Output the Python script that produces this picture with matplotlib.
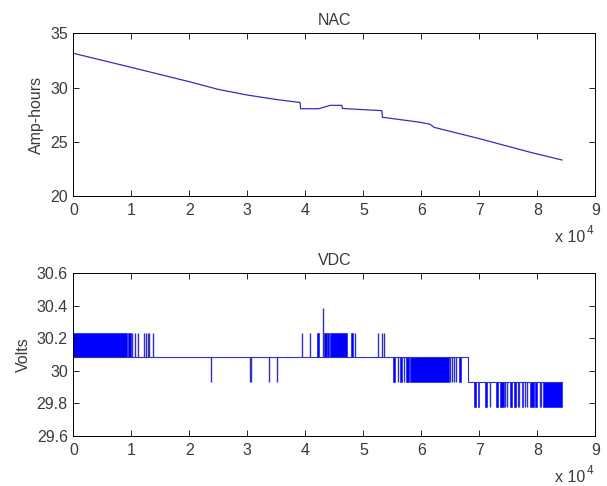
import matplotlib
matplotlib.use('Agg')
import matplotlib.pyplot as plt
from matplotlib.ticker import FixedLocator, FuncFormatter

# ---------------- data ----------------
# NAC (Amp-hours) vs time (samples)
nac_t = [0, 10000, 20000, 25000, 30000, 35000, 39100, 39200, 42300, 44300,
         46300, 46400, 53200, 53300, 59800, 61500, 62200, 70000, 78800, 84250]
nac_v = [33.16, 31.86, 30.54, 29.83, 29.31, 28.90, 28.62, 28.05, 28.05, 28.36,
         28.36, 28.07, 27.87, 27.26, 26.80, 26.62, 26.33, 25.29, 24.03, 23.32]

# VDC quantised levels (Volts)
lvl_low = 29.777
lvl_mid = 29.930
lvl_base = 30.083
lvl_high = 30.236
lvl_peak = 30.389

# baseline of the VDC signal
base_t = [0, 68100, 68100, 84250]
base_v = [lvl_base, lvl_base, lvl_mid, lvl_mid]

# dense toggling bands (start, end)
hi_bands = [(0, 9200), (9500, 9900), (42000, 42400), (43300, 44000),
            (44300, 47200), (47900, 48300)]
mid_bands = [(55200, 55500), (56300, 56700), (57400, 57800), (58000, 64700),
             (66500, 66900)]
lo_bands = [(69000, 69500), (69700, 70000), (71000, 71300), (72900, 73300),
            (73600, 74200), (75200, 75600), (75900, 76400), (77300, 77600),
            (78800, 79400), (79600, 80000), (81000, 84250)]

# isolated toggles
hi_spikes = [10200, 10600, 11200, 12100, 12500, 12800, 13100, 13800,
             39500, 40800, 43700, 48600, 52500, 53300, 53600]
peak_spikes = [43000]
dip_spikes = [23700, 30500, 30600, 33700, 35100]
mid_spikes = [55900, 57050, 65000, 65300, 65600, 66000]
lo_spikes = [71800, 74500, 74800, 76600, 76900, 77800, 78200, 80400, 80600]

x_ticks = [0, 10000, 20000, 30000, 40000, 50000, 60000, 70000, 80000, 90000]
nac_yticks = [20, 25, 30, 35]
vdc_yticks = [29.6, 29.8, 30.0, 30.2, 30.4, 30.6]

# ---------------- style ----------------
plt.rcParams['font.family'] = ['Liberation Sans', 'DejaVu Sans']
FS = 11.5
txt_col = '#3a3a3a'
line_col = '#3030c0'
fill_col = '#0000ff'

fig = plt.figure(figsize=(6.07, 4.86), dpi=100)
ax1 = fig.add_axes([0.1208, 0.5967, 0.860, 0.3347])
ax2 = fig.add_axes([0.1208, 0.1029, 0.860, 0.3347])


def style(ax, yticks, ylim, ylabel, title):
    ax.set_xlim(0, 90000)
    ax.set_ylim(*ylim)
    ax.xaxis.set_major_locator(FixedLocator(x_ticks))
    ax.xaxis.set_major_formatter(FuncFormatter(lambda v, p: '%g' % (v / 1e4)))
    ax.yaxis.set_major_locator(FixedLocator(yticks))
    ax.yaxis.set_major_formatter(FuncFormatter(lambda v, p: '%g' % round(v, 4)))
    ax.tick_params(direction='in', length=4, width=0.6, top=True, right=True,
                   colors='black', labelcolor=txt_col, labelsize=FS)
    ax.tick_params(axis='y', pad=4)
    ax.tick_params(axis='x', pad=5)
    for s in ax.spines.values():
        s.set_linewidth(0.7)
    ax.set_ylabel(ylabel, color=txt_col, fontsize=FS, labelpad=4)
    ax.set_title(title, color=txt_col, fontsize=FS, pad=6)
    ax.text(0.981, -0.285, 'x 10', transform=ax.transAxes, ha='right',
            va='baseline', color=txt_col, fontsize=FS)
    ax.text(0.983, -0.235, '4', transform=ax.transAxes, ha='left',
            va='baseline', color=txt_col, fontsize=8.5)


# top: NAC
ax1.plot(nac_t, nac_v, color=line_col, lw=0.9)
style(ax1, nac_yticks, (20, 35), 'Amp-hours', 'NAC')

# bottom: VDC
ax2.plot(base_t, base_v, color=line_col, lw=0.8)
for a, b in hi_bands:
    ax2.fill_between([a, b], lvl_base, lvl_high, color=fill_col, lw=0.4)
for a, b in mid_bands:
    ax2.fill_between([a, b], lvl_mid, lvl_base, color=fill_col, lw=0.4)
for a, b in lo_bands:
    ax2.fill_between([a, b], lvl_low, lvl_mid, color=fill_col, lw=0.4)
ax2.vlines(hi_spikes, lvl_base, lvl_high, color=line_col, lw=1)
ax2.vlines(peak_spikes, lvl_base, lvl_peak, color=line_col, lw=1)
ax2.vlines(dip_spikes, lvl_mid, lvl_base, color=line_col, lw=1)
ax2.vlines(mid_spikes, lvl_mid, lvl_base, color=line_col, lw=1)
ax2.vlines(lo_spikes, lvl_low, lvl_mid, color=line_col, lw=1)
style(ax2, vdc_yticks, (29.6, 30.6), 'Volts', 'VDC')

fig.savefig('out.png', dpi=100)
